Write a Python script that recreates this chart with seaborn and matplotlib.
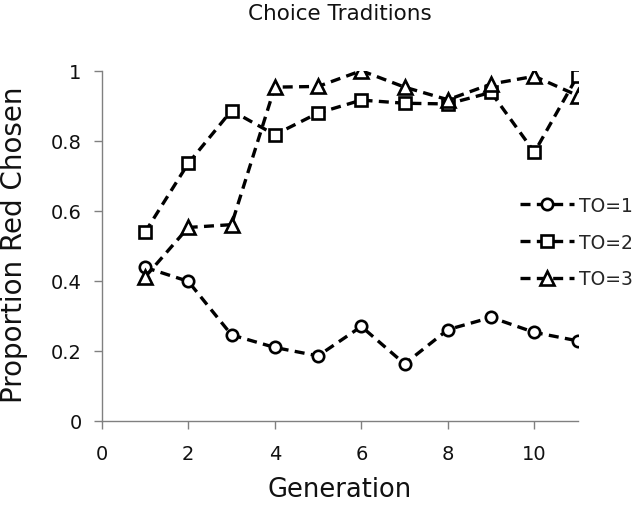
import matplotlib
matplotlib.use("Agg")
import matplotlib.pyplot as plt
import seaborn as sns
import pandas as pd
from matplotlib.ticker import FuncFormatter

generation = [1, 2, 3, 4, 5, 6, 7, 8, 9, 10, 11]
to1 = [0.438, 0.398, 0.245, 0.209, 0.185, 0.269, 0.162, 0.260, 0.295, 0.252, 0.228]
to2 = [0.538, 0.735, 0.886, 0.817, 0.879, 0.916, 0.907, 0.905, 0.938, 0.767, 0.986]
to3 = [0.410, 0.552, 0.560, 0.953, 0.955, 1.000, 0.953, 0.917, 0.962, 0.984, 0.929]
labels = ["TO=1", "TO=2", "TO=3"]
markers = ["o", "s", "^"]
msizes = [8.2, 8.2, 9.5]

sns.set_theme(style="white")
plt.rcParams['font.family'] = ['DejaVu Sans']

W, H = 636, 506
fig = plt.figure(figsize=(6.36, 5.06), dpi=100)
ax = fig.add_axes([101.7 / W, 1 - 421.6 / H, 476 / W, 349.9 / H])

for vals, lab, mk, ms in zip([to1, to2, to3], labels, markers, msizes):
    df = pd.DataFrame({"Generation": generation, "p": vals})
    sns.lineplot(data=df, x="Generation", y="p", ax=ax, color="black",
                 linestyle=(0, (3.0, 1.9)), linewidth=2.4, marker=mk,
                 markersize=ms, markerfacecolor="white",
                 markeredgecolor="black", markeredgewidth=1.9, label=lab)

ax.set_xlim(0, 11)
ax.set_ylim(0, 1)
ax.set_xticks([0, 2, 4, 6, 8, 10])
ax.set_yticks([0, 0.2, 0.4, 0.6, 0.8, 1.0])
ax.yaxis.set_major_formatter(FuncFormatter(lambda v, p: f"{v:g}"))
for s in ["top", "right"]:
    ax.spines[s].set_visible(False)
for s in ["left", "bottom"]:
    ax.spines[s].set_color("#808080")
    ax.spines[s].set_linewidth(1.0)
ax.tick_params(axis="both", which="major", direction="out", length=5.5, width=1,
               color="#808080", labelsize=14, labelcolor="#111111", left=True, bottom=True)
ax.tick_params(axis="y", pad=9)
ax.tick_params(axis="x", pad=11)
ax.set_xlabel("")
ax.set_ylabel("")
fig.text(339.7 / W, 1 - 490 / H, "Generation", fontsize=18.5, color="#111111",
         ha="center", va="center")
fig.text(14 / W, 1 - 245 / H, "Proportion Red Chosen", fontsize=20, color="#111111",
         ha="center", va="center", rotation=90)
fig.text(339.7 / W, 1 - 14 / H, "Choice Traditions", fontsize=15.5, color="#111111",
         ha="center", va="center")

leg = ax.legend(loc="center left", bbox_to_anchor=(0.862, 0.51), frameon=False,
                fontsize=13.5, handlelength=2.9, labelspacing=0.95, handletextpad=0.25,
                borderaxespad=0)

fig.savefig("out.png", dpi=100)
